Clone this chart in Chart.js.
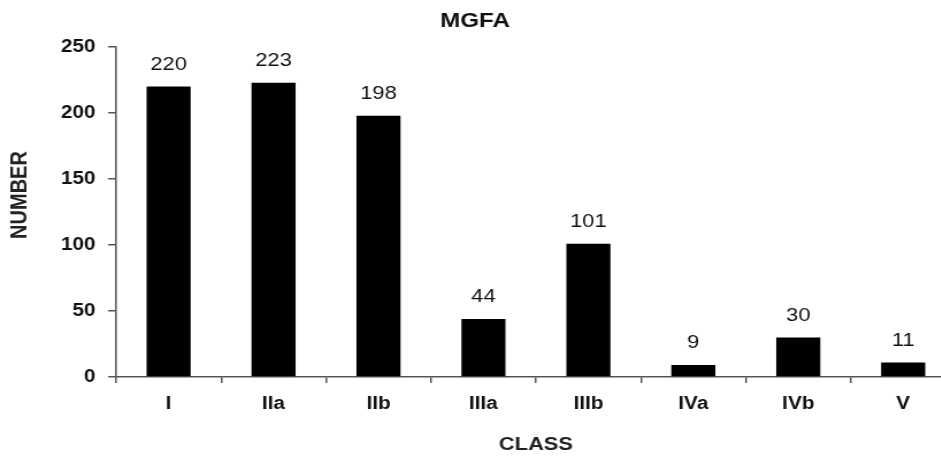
<!DOCTYPE html>
<html>
<head>
<meta charset="utf-8">
<script src="https://cdn.jsdelivr.net/npm/chart.js@4/dist/chart.umd.min.js"></script>
<style>
  html, body { margin: 0; padding: 0; background: #fff; overflow: hidden; }
  /* the source figure is stretched sideways, so the chart is drawn narrower and widened */
  #wrap { width: 831px; height: 456px; transform: scaleX(1.15); transform-origin: 0 0; }
</style>
</head>
<body>
<div id="wrap"><canvas id="chart"></canvas></div>
<script>
// MGFA classes and patient counts
var classes = ['I', 'IIa', 'IIb', 'IIIa', 'IIIb', 'IVa', 'IVb', 'V'];
var counts = [220, 223, 198, 44, 101, 9, 30, 11];
var yTicks = [0, 50, 100, 150, 200, 250];

var FONT = '"Liberation Sans", Arial, sans-serif';
var AXIS = '#555';

// Values above each bar
var barLabels = {
  id: 'barLabels',
  afterDatasetsDraw: function(chart) {
    var ctx = chart.ctx;
    var meta = chart.getDatasetMeta(0);
    ctx.save();
    ctx.font = '19px ' + FONT;
    ctx.fillStyle = '#111';
    ctx.textAlign = 'center';
    ctx.textBaseline = 'middle';
    meta.data.forEach(function(bar, i) {
      ctx.fillText(String(counts[i]), bar.x, bar.y - 22);
    });
    ctx.restore();
  }
};

// Main title and the y axis title, placed as in the figure
var titles = {
  id: 'titles',
  afterDraw: function(chart) {
    var ctx = chart.ctx;
    ctx.save();
    ctx.fillStyle = '#111';
    ctx.textAlign = 'center';
    ctx.textBaseline = 'middle';
    ctx.font = 'bold 21px ' + FONT;
    ctx.fillText('MGFA', 413, 21);

    ctx.translate(17.5, 195);
    ctx.rotate(-Math.PI / 2);
    ctx.font = 'bold 20px ' + FONT;
    ctx.fillStyle = '#222';
    ctx.fillText('NUMBER', 0, 0);
    ctx.restore();
  }
};

new Chart(document.getElementById('chart'), {
  type: 'bar',
  data: {
    labels: classes,
    datasets: [{
      data: counts,
      backgroundColor: '#000',
      borderWidth: 0,
      barPercentage: 0.6,
      categoryPercentage: 0.7
    }]
  },
  plugins: [barLabels, titles],
  options: {
    responsive: true,
    maintainAspectRatio: false,
    animation: false,
    layout: { padding: { top: 47, right: 0, left: 0, bottom: 0 } },
    plugins: {
      legend: { display: false },
      tooltip: { enabled: false },
      title: { display: false }
    },
    scales: {
      x: {
        grid: {
          offset: true,
          drawOnChartArea: false,
          tickLength: 6,
          color: AXIS,
          lineWidth: 1.5
        },
        border: { color: AXIS, width: 1.5 },
        ticks: {
          color: '#111',
          padding: 10,
          font: { family: FONT, size: 18, weight: 'bold' }
        },
        title: {
          display: true,
          text: 'CLASS',
          color: '#222',
          padding: { top: 14, bottom: 0 },
          font: { family: FONT, size: 19, weight: 'bold' }
        },
        afterFit: function(scale) { scale.height = 79; }
      },
      y: {
        min: 0,
        max: 250,
        afterBuildTicks: function(scale) {
          scale.ticks = yTicks.map(function(v) { return { value: v }; });
        },
        grid: {
          drawOnChartArea: false,
          tickLength: 7,
          color: AXIS,
          lineWidth: 1.5
        },
        border: { color: AXIS, width: 1.5 },
        ticks: {
          color: '#111',
          padding: 11,
          font: { family: FONT, size: 18, weight: 'bold' }
        },
        afterFit: function(scale) { scale.width = 101; }
      }
    }
  }
});
</script>
</body>
</html>
